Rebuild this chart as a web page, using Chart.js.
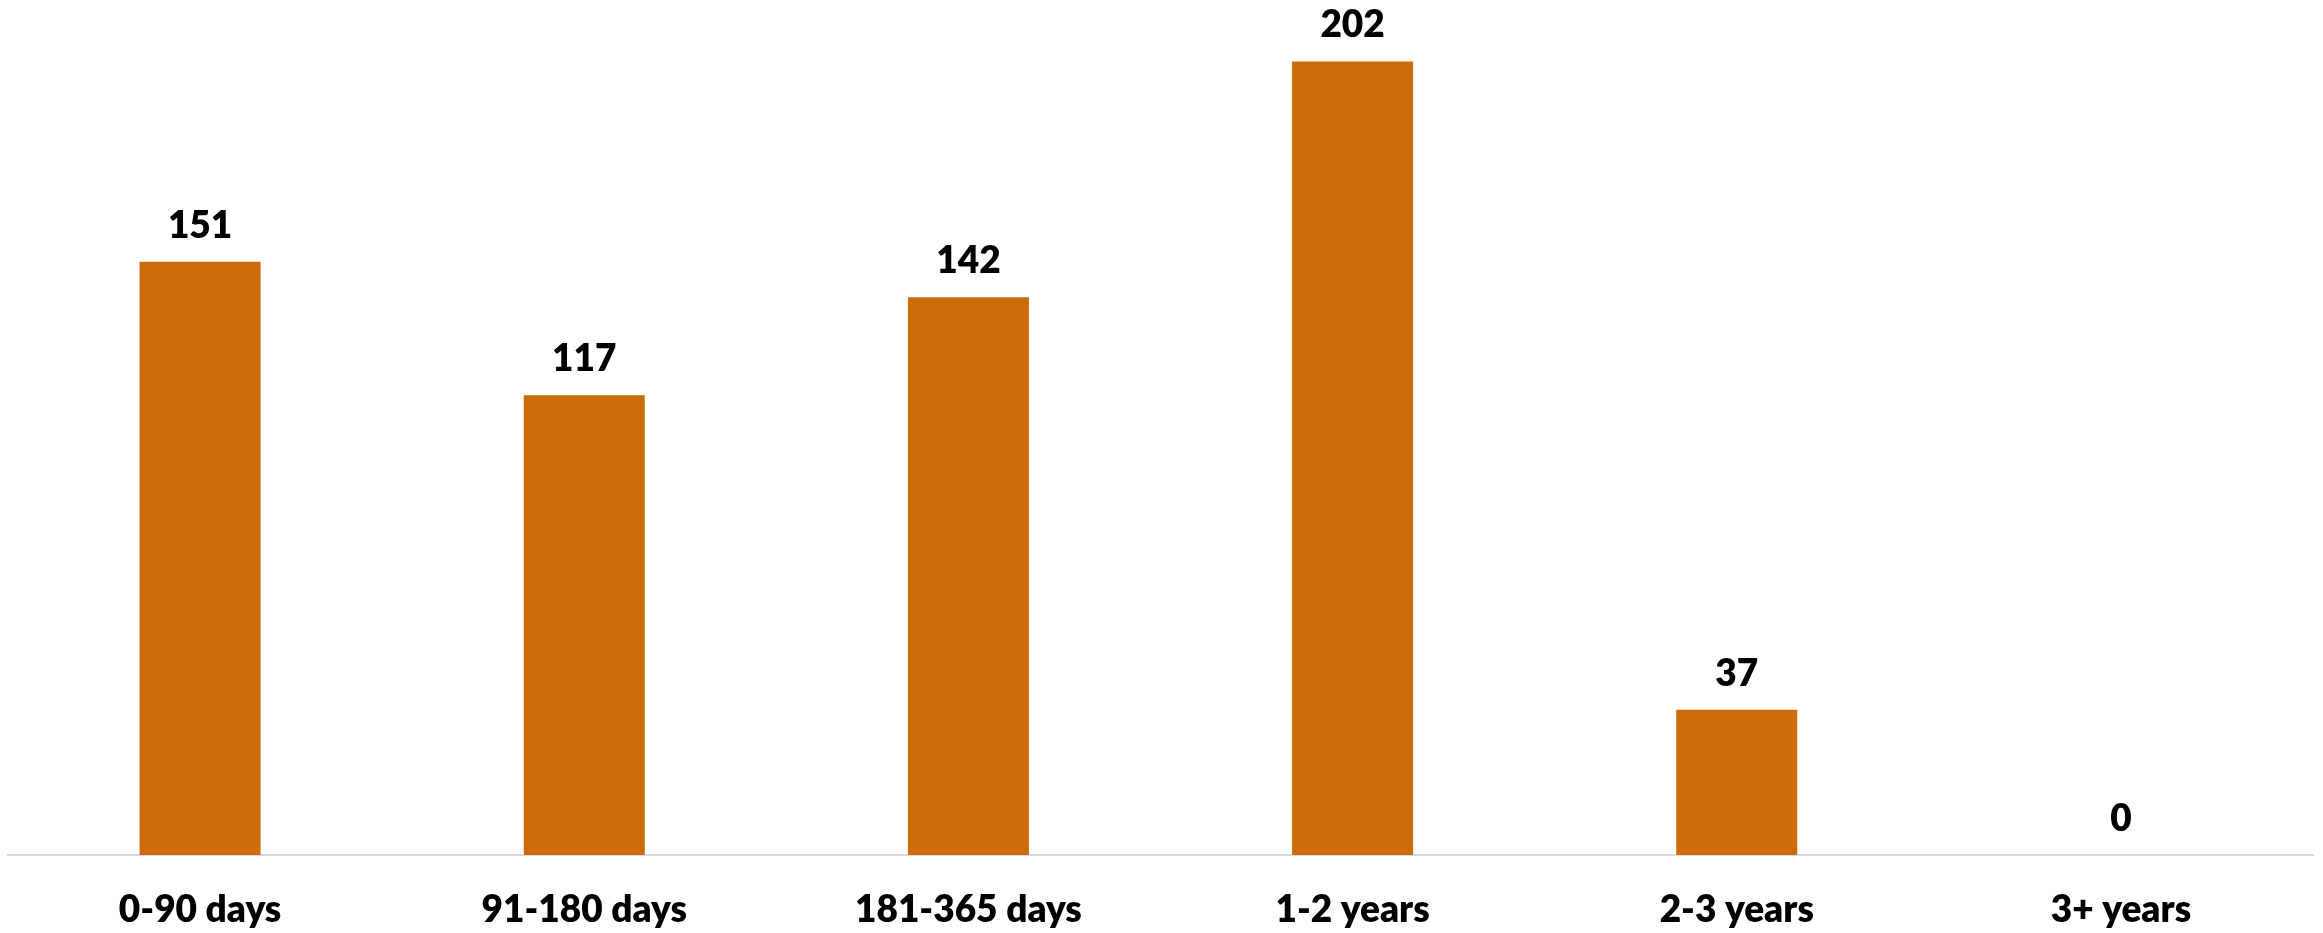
<!DOCTYPE html>
<html>
<head>
<meta charset="utf-8">
<script src="https://cdn.jsdelivr.net/npm/chart.js@4"></script>
<style>
  html, body { margin: 0; padding: 0; background: #ffffff; }
  #wrap { width: 2323px; height: 933px; }
</style>
</head>
<body>
<div id="wrap"><canvas id="chart" width="2323" height="933"></canvas></div>
<script>
// Ageing buckets and their counts
const categories = ['0-90 days', '91-180 days', '181-365 days', '1-2 years', '2-3 years', '3+ years'];
const counts = [151, 117, 142, 202, 37, 0];

const barColor = '#CD6B09';
const fontFamily = 'Lato, "Open Sans", "Liberation Sans", sans-serif';
const fontSize = 37;
const fontWeight = 800;

// Writes each bar's value just above its top edge
const valueLabels = {
  id: 'valueLabels',
  afterDatasetsDraw(chart) {
    const ctx = chart.ctx;
    const meta = chart.getDatasetMeta(0);
    ctx.save();
    ctx.fillStyle = '#000000';
    ctx.font = fontWeight + ' ' + fontSize + 'px ' + fontFamily;
    ctx.textAlign = 'center';
    ctx.textBaseline = 'alphabetic';
    meta.data.forEach((bar, i) => {
      ctx.fillText(String(counts[i]), bar.x, bar.y - 24);
    });
    ctx.restore();
  }
};

new Chart(document.getElementById('chart'), {
  type: 'bar',
  data: {
    labels: categories,
    datasets: [{
      data: counts,
      backgroundColor: barColor,
      borderWidth: 0,
      categoryPercentage: 1,
      barPercentage: 0.315
    }]
  },
  options: {
    responsive: false,
    animation: false,
    layout: { padding: { left: 8, right: 10, top: 30, bottom: 0 } },
    plugins: {
      legend: { display: false },
      tooltip: { enabled: false }
    },
    scales: {
      x: {
        grid: { display: false, drawTicks: false },
        border: { display: true, color: '#D9D9D9', width: 2 },
        ticks: {
          color: '#000000',
          padding: 33,
          font: { family: fontFamily, size: fontSize, weight: fontWeight }
        },
        afterFit(scale) { scale.height = 78; }
      },
      y: {
        display: false,
        min: 0,
        max: 210
      }
    }
  },
  plugins: [valueLabels]
});
</script>
</body>
</html>
